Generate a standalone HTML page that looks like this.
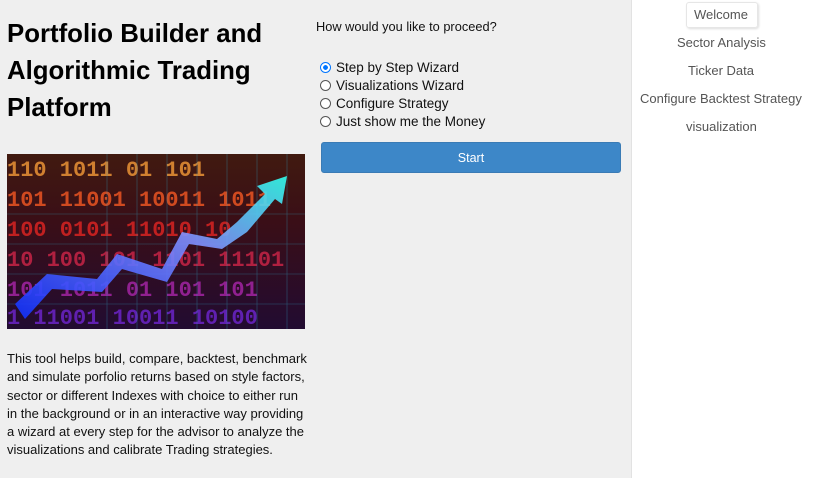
<!DOCTYPE html>
<html><head><meta charset="utf-8"><style>
body{margin:0;width:814px;height:489px;background:#fff;font-family:"Liberation Sans",Arial,sans-serif;position:relative;overflow:hidden}
.panel{position:absolute;left:0;top:0;width:631px;height:478px;background:#efefef;border-right:1px solid #e2e2e2}
h1{position:absolute;left:7px;top:16px;margin:0;font-size:25.8px;line-height:37px;font-weight:bold;color:#000;width:300px}
.desc{position:absolute;left:7px;top:350px;width:302px;font-size:13px;line-height:18.3px;color:#111}
.q{position:absolute;left:316px;top:19px;font-size:12.8px;color:#111}
.radios{position:absolute;left:320px;top:58px;font-size:13.5px;color:#111}
.radios div{height:18px;display:flex;align-items:center}
.radios span.r{width:11px;height:11px;border:1px solid #555;border-radius:50%;margin-right:5px;box-sizing:border-box;background:#fff;display:inline-block}
.radios span.r.on{border:1px solid #0075ff;background:radial-gradient(circle,#0075ff 35%,#fff 40%)}
.start{position:absolute;left:321px;top:142px;width:300px;height:31px;background:#3d87c8;border-radius:3px;color:#fff;font-size:12.5px;display:flex;align-items:center;justify-content:center;border:1px solid #3a7bb5;box-sizing:border-box}
.nav a{position:absolute;font-size:13px;color:#555;text-decoration:none;white-space:nowrap}
.welcome{position:absolute;left:686px;top:2px;width:72px;height:26px;border:1px solid #e6e6e6;border-radius:3px;box-sizing:border-box;box-shadow:1px 1px 2px #ddd}
</style></head><body>
<div class="panel"></div>
<h1>Portfolio Builder and Algorithmic Trading Platform</h1>
<svg style="position:absolute;left:7px;top:154px" width="298" height="175" viewBox="0 0 298 175">
<defs><linearGradient id="bg" x1="0" y1="0" x2="0" y2="1"><stop offset="0" stop-color="#7a3010"/><stop offset="0.4" stop-color="#6a1520"/><stop offset="1" stop-color="#35105a"/></linearGradient>
<linearGradient id="ar" x1="0" y1="1" x2="1" y2="0"><stop offset="0" stop-color="#1030ff"/><stop offset="0.6" stop-color="#8090ff"/><stop offset="1" stop-color="#30ffee"/></linearGradient></defs>
<rect width="298" height="175" fill="#120810"/>
<rect width="298" height="175" fill="url(#bg)" opacity="0.45"/>
<g font-family="Liberation Mono,monospace" font-weight="bold" font-size="22">
<text x="0" y="22" fill="#d08030">110 1011 01 101</text>
<text x="0" y="52" fill="#d04a20">101 11001 10011 1011</text>
<text x="0" y="82" fill="#c02020">100 0101 11010 10</text>
<text x="0" y="112" fill="#b02040">10 100 101 1101 11101</text>
<text x="0" y="142" fill="#902090">101 1011 01 101 101</text>
<text x="0" y="170" fill="#6020b0">1 11001 10011 10100</text></g>
<g stroke="#30a0c0" stroke-width="0.6" opacity="0.5">
<path d="M100 0V175M130 0V175M160 0V175M190 0V175M220 0V175M250 0V175M280 0V175M0 60H298M0 90H298M0 120H298M0 150H298"/></g>
<path d="M8 150L40 120L90 125L110 100L155 115L175 78L210 85L230 68L258 40L250 32L280 22L275 50L268 45L240 78L215 95L182 90L160 128L115 115L95 138L45 135L18 165Z" fill="url(#ar)" opacity="0.9"/>
</svg>
<div class="desc">This tool helps build, compare, backtest, benchmark and simulate porfolio returns based on style factors, sector or different Indexes with choice to either run in the background or in an interactive way providing a wizard at every step for the advisor to analyze the visualizations and calibrate Trading strategies.</div>
<div class="q">How would you like to proceed?</div>
<div class="radios">
<div><span class="r on"></span>Step by Step Wizard</div>
<div><span class="r"></span>Visualizations Wizard</div>
<div><span class="r"></span>Configure Strategy</div>
<div><span class="r"></span>Just show me the Money</div>
</div>
<div class="start">Start</div>
<div class="nav">
<div class="welcome"></div>
<a style="left:694px;top:7px">Welcome</a>
<a style="left:677px;top:35px">Sector Analysis</a>
<a style="left:688px;top:63px">Ticker Data</a>
<a style="left:640px;top:91px">Configure Backtest Strategy</a>
<a style="left:686px;top:119px">visualization</a>
</div>
</body></html>
